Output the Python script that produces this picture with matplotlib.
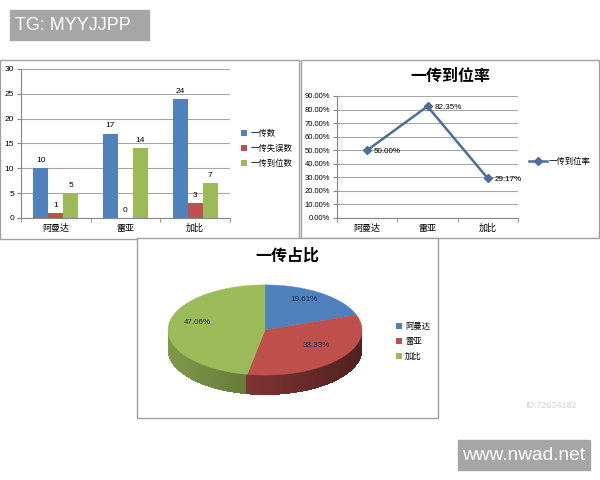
import numpy as np
import matplotlib
matplotlib.use("Agg")
import matplotlib.pyplot as plt
from matplotlib.patches import Rectangle, Polygon, Patch

plt.rcParams['font.family'] = ['Liberation Sans', 'Noto Sans CJK SC', 'DejaVu Sans']

# data
players = ['阿曼达', '雷亚', '加比']
bar_names = ['一传数', '一传失误数', '一传到位数']
pass_total = [10, 17, 24]
pass_errors = [1, 0, 3]
pass_good = [5, 14, 7]
rate_name = '一传到位率'
good_rate = [50.00, 82.35, 29.17]
share_title = '一传占比'
pass_share = [10, 17, 24]

blue, red, green = '#4F81BD', '#C0504D', '#9BBB59'
line_col = '#4d6e99'
grid_col = '#a6a6a6'
W, H = 600, 480

fig = plt.figure(figsize=(6, 4.8), dpi=100)
fig.patch.set_facecolor('white')


def px_axes(x0, y0, x1, y1):
    return fig.add_axes([x0 / W, 1 - y1 / H, (x1 - x0) / W, (y1 - y0) / H])


def panel(x0, y0, x1, y1, face='white', edge='#a0a0a0'):
    fig.add_artist(Rectangle((x0 / W, 1 - y1 / H), (x1 - x0) / W, (y1 - y0) / H,
                             transform=fig.transFigure, facecolor=face,
                             edgecolor=edge, lw=1, zorder=0))


def style_axes(ax, ysize):
    for s in ['top', 'right']:
        ax.spines[s].set_visible(False)
    for s in ['left', 'bottom']:
        ax.spines[s].set_color('#868686')
        ax.spines[s].set_linewidth(0.8)
    ax.yaxis.grid(True, color=grid_col, lw=0.8)
    ax.set_axisbelow(True)
    ax.set_xlim(-0.5, len(players) - 0.5)
    ax.set_xticks(range(len(players)))
    ax.set_xticklabels(players, fontsize=6.5)
    ax.tick_params(axis='x', length=0, pad=4)
    ax.set_xticks(np.arange(-0.5, len(players), 1.0), minor=True)
    ax.tick_params(axis='x', which='minor', length=3, color='#868686')
    ax.tick_params(axis='y', length=3, color='#868686', labelsize=ysize, pad=2)


# panels
panel(0, 60, 299, 239)
panel(301, 60, 599, 238)
panel(137, 238, 438, 418)

# bar chart
ax1 = px_axes(21, 69, 230, 218)
style_axes(ax1, 6)
x = np.arange(len(players))
w = 0.215
for k, (vals, col) in enumerate(zip([pass_total, pass_errors, pass_good], [blue, red, green])):
    bars = ax1.bar(x + (k - 1) * w, vals, width=w, color=col, label=bar_names[k])
    for bb, v in zip(bars, vals):
        ax1.annotate(str(v), (bb.get_x() + bb.get_width() / 2, v), xytext=(0, 3),
                     textcoords='offset points', ha='center', va='bottom', fontsize=6)
ax1.set_ylim(0, 30)
ax1.set_yticks(range(0, 31, 5))
ax1.legend(loc='center left', bbox_to_anchor=(241 / W, 1 - 149 / H),
           bbox_transform=fig.transFigure, frameon=False, fontsize=6,
           handlelength=0.7, handleheight=0.7, handletextpad=0.5,
           labelspacing=0.8, borderpad=0, borderaxespad=0)

# line chart
ax2 = px_axes(337, 96, 518, 218)
style_axes(ax2, 5.5)
ax2.plot(x, good_rate, color=line_col, lw=1.8, marker='D', ms=4.5, label=rate_name)
for xi, v in zip(x, good_rate):
    ax2.annotate('%.2f%%' % v, (xi, v), xytext=(5, -1), textcoords='offset points',
                 ha='left', va='center', fontsize=5.8)
ax2.set_ylim(0, 90)
ax2.set_yticks(range(0, 91, 10))
ax2.set_yticklabels(['%.2f%%' % t for t in range(0, 91, 10)])
ax2.legend(loc='center left', bbox_to_anchor=(529 / W, 1 - 162 / H),
           bbox_transform=fig.transFigure, frameon=False, fontsize=6,
           handlelength=2.2, handletextpad=0.2, borderpad=0, borderaxespad=0)
fig.text(450 / W, 1 - 76 / H, rate_name, ha='center', va='center',
         fontsize=11.5, fontweight='bold', family='Noto Sans CJK SC')

# 3d pie
cx, cy, R = 265, 330, 97
b, depth = 0.465, 0.2
ax3 = px_axes(160, 280, 372, 405)
ax3.set_xlim((160 - cx) / R, (372 - cx) / R)
ax3.set_ylim((cy - 405) / R, (cy - 280) / R)
ax3.axis('off')
pie_cols = [blue, red, green]
fracs = np.array(pass_share) / sum(pass_share)
cum = np.cumsum(fracs)
bounds = 90 - 360 * np.concatenate([[0], cum])

# side wall (front half)
ts = np.linspace(180, 360, 181)
for t0, t1 in zip(ts[:-1], ts[1:]):
    tm = (t0 + t1) / 2
    f = ((90 - tm) % 360) / 360
    idx = min(np.searchsorted(cum, f), len(cum) - 1)
    shade = 0.82 - 0.4 * (np.cos(np.radians(tm)) + 1) / 2
    col = np.array(matplotlib.colors.to_rgb(pie_cols[idx])) * shade
    r0, r1 = np.radians(t0), np.radians(t1 + 0.6)
    quad = [(np.cos(r0), b * np.sin(r0)), (np.cos(r1), b * np.sin(r1)),
            (np.cos(r1), b * np.sin(r1) - depth), (np.cos(r0), b * np.sin(r0) - depth)]
    ax3.add_patch(Polygon(quad, facecolor=col, edgecolor='none', lw=0, antialiased=False))

# top surface
for i in range(len(pass_share)):
    t = np.radians(np.linspace(bounds[i], bounds[i + 1], 80))
    pts = np.vstack([[0, 0], np.column_stack([np.cos(t), b * np.sin(t)])])
    ax3.add_patch(Polygon(pts, facecolor=pie_cols[i], edgecolor=pie_cols[i], lw=0.3))
    mid = np.radians((bounds[i] + bounds[i + 1]) / 2)
    ax3.text(0.7 * np.cos(mid), 0.7 * b * np.sin(mid) + 0.05, '%.2f%%' % (fracs[i] * 100),
             ha='center', va='center', fontsize=5.8, color='#1f2a44')

fig.text(287 / W, 1 - 256 / H, share_title, ha='center', va='center',
         fontsize=11.5, fontweight='bold', family='Noto Sans CJK SC')
ax3.legend(handles=[Patch(facecolor=c) for c in pie_cols], labels=players,
           loc='center left', bbox_to_anchor=(396 / W, 1 - 342 / H),
           bbox_transform=fig.transFigure, frameon=False, fontsize=6,
           handlelength=0.7, handleheight=0.7, handletextpad=0.4,
           labelspacing=0.8, borderpad=0, borderaxespad=0)

# watermarks
panel(10, 10, 149, 40, face='#a6a6a6', edge='#a6a6a6')
fig.text(15 / W, 1 - 25 / H, 'TG: MYYJJPP', ha='left', va='center', fontsize=13,
         color='white')
panel(458, 440, 590, 470, face='#a6a6a6', edge='#a6a6a6')
fig.text(524 / W, 1 - 455 / H, 'www.nwad.net', ha='center', va='center', fontsize=13.8,
         color='white')
fig.text(525 / W, 1 - 405 / H, 'ID:72624182', ha='left', va='center', fontsize=6.5,
         color='#d4d4d4')

fig.savefig('out.png', dpi=100, facecolor='white')
